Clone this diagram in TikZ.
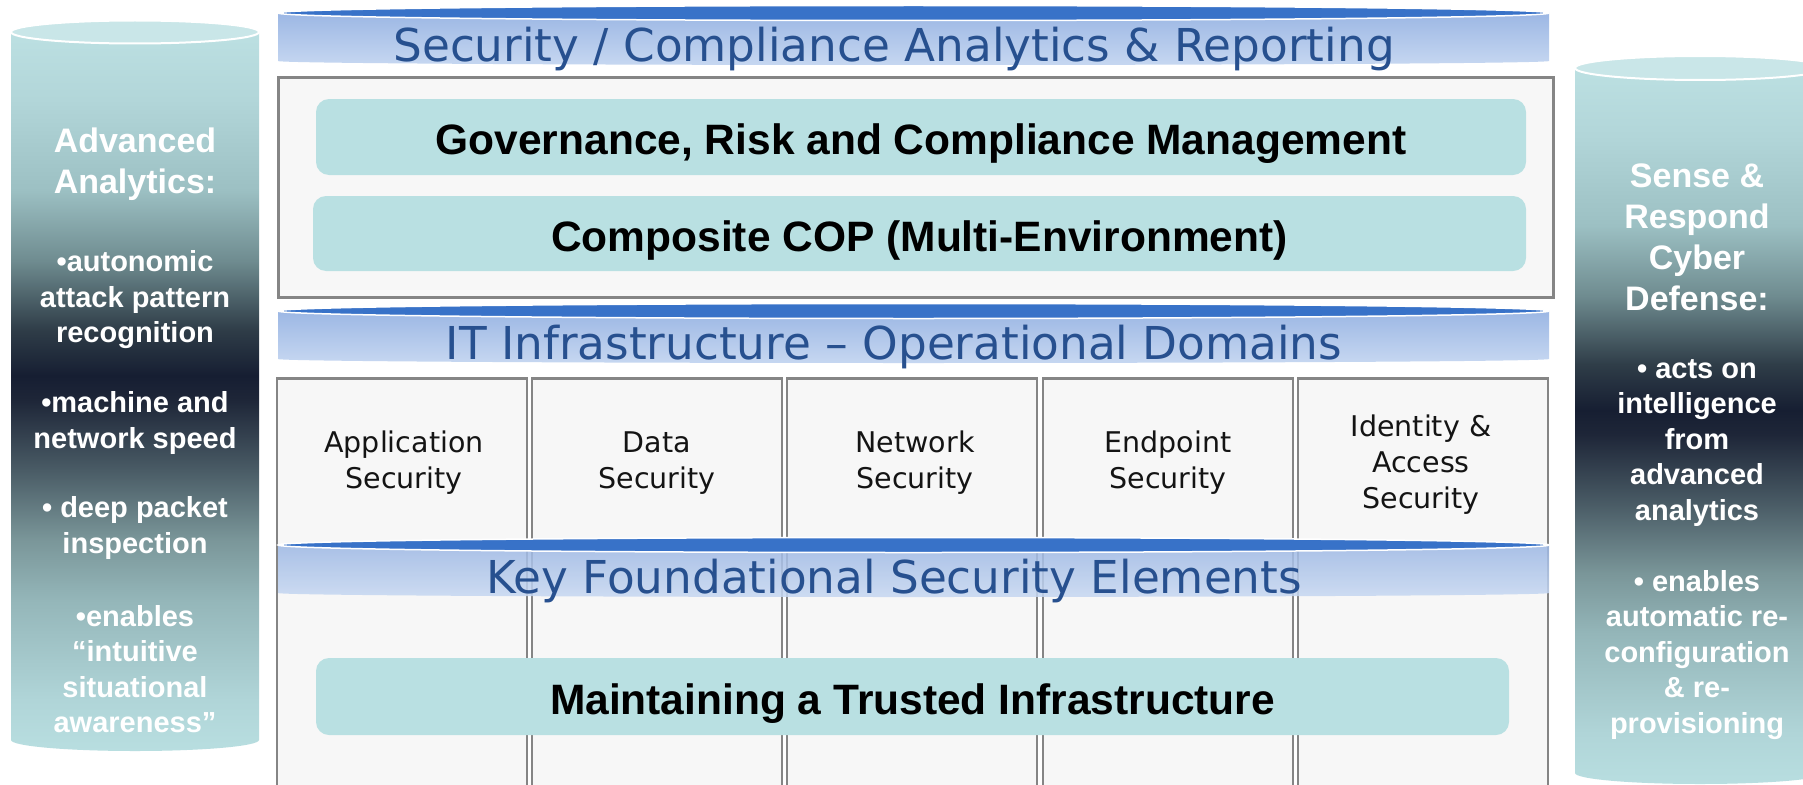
\documentclass[tikz,border=0pt]{standalone}
\usepackage{fontspec}
\setmainfont{Liberation Sans}
\newfontfamily\djv{DejaVu Sans}
\definecolor{bandblue}{HTML}{3872C8}
\definecolor{bandtop}{HTML}{9CB7E4}
\definecolor{bandbot}{HTML}{C6D7F1}
\definecolor{titleblue}{HTML}{27508F}
\definecolor{tealfill}{HTML}{B9E0E2}
\definecolor{panel}{HTML}{F7F7F7}
\definecolor{panelline}{HTML}{858585}
\definecolor{cyltop}{HTML}{C9E6E8}
\definecolor{cA}{HTML}{B8DEE0}
\definecolor{cB}{HTML}{B0D5D8}
\definecolor{cC}{HTML}{94B6B9}
\definecolor{cD}{HTML}{7A9699}
\definecolor{cE}{HTML}{4A5C66}
\definecolor{cF}{HTML}{1E2638}
\definecolor{cG}{HTML}{161E32}
\definecolor{cH}{HTML}{2F3D48}
\definecolor{cI}{HTML}{6F8C90}
\definecolor{cJ}{HTML}{9CC0C3}
\definecolor{cK}{HTML}{B2D6D9}
\definecolor{cL}{HTML}{BCE0E2}
\pgfdeclareverticalshading{cylshade}{100bp}{color(0bp)=(cA); color(25bp)=(cA); color(28.55bp)=(cB); color(35.5bp)=(cC); color(39.7bp)=(cD); color(44.5bp)=(cE); color(49.4bp)=(cF); color(51.1bp)=(cG); color(54.3bp)=(cH); color(59.1bp)=(cI); color(64bp)=(cJ); color(70.3bp)=(cK); color(75bp)=(cL); color(100bp)=(cL)}
\tikzset{
  panelbox/.style={draw=panelline, line width=3pt, fill=panel},
  colbox/.style={draw=panelline, line width=2.5pt, fill=panel, minimum width=250pt, minimum height=520pt, anchor=north, inner sep=0pt},
  tbox/.style={fill=tealfill, rounded corners=13pt, inner sep=0pt, text height=35pt, text depth=0pt, font=\fontsize{42.5}{50}\bfseries\selectfont},
  bandtitle/.style={text=titleblue, font=\djv\fontsize{45.3}{54}\selectfont, anchor=base, inner sep=0pt},
  collabel/.style={font=\djv\fontsize{28.5}{36}\selectfont, align=center, text=black!92},
  cylhead/.style={text=white, font=\fontsize{34}{41}\bfseries\selectfont, align=center, inner sep=0pt},
  cylbody/.style={text=white, font=\fontsize{29}{35.5}\bfseries\selectfont, align=center, inner sep=0pt},
}
\newcommand\mybandat[2]{%
  \path[top color=bandtop, bottom color=bandbot, fill opacity=#2] (278,#1) -- (278,{#1+48}) arc[start angle=180, end angle=0, x radius=635.5, y radius=4] -- (1549,#1) -- cycle;
  \draw[white, line width=1.5pt, fill=bandblue] (913.5,#1) ellipse[x radius=635.5, y radius=7.5];
}
\begin{document}
\begin{tikzpicture}[x=1pt, y=-1pt]
\useasboundingbox (0,0) rectangle (1803,784);
\fill[white] (0,0) rectangle (1803,784);
\clip (0,0) rectangle (1803,784);

% left cylinder
\path[shading=cylshade] (11,32) -- (11,740) arc[start angle=180, end angle=0, x radius=124, y radius=11] -- (259,32) -- cycle;
\draw[white, line width=2pt, fill=cyltop] (135,32) ellipse[x radius=124, y radius=11.5];
% right cylinder
\path[shading=cylshade] (1575,68) -- (1575,773) arc[start angle=180, end angle=0, x radius=125, y radius=11] -- (1825,68) -- cycle;
\draw[white, line width=2pt, fill=cyltop] (1700,68) ellipse[x radius=125, y radius=12];

% top band and panel
\mybandat{13}{1}
\node (t1) [bandtitle] at (894,61) {Security / Compliance Analytics \& Reporting};
\draw[panelbox] (278,77) rectangle (1553,297);
\node (grc) [tbox, minimum width=1210pt, minimum height=76pt] at (921,137) {Governance, Risk and Compliance Management};
\node (cop) [tbox, minimum width=1213pt, minimum height=75pt] at (919.5,233.5) {Composite COP (Multi-Environment)};

% second band
\mybandat{311}{1}
\node (t2) [bandtitle] at (894,359) {IT Infrastructure – Operational Domains};

% columns
\node (c1) [colbox] at (402,377) {};
\node (c2) [colbox] at (657,377) {};
\node (c3) [colbox] at (912,377) {};
\node (c4) [colbox] at (1168,377) {};
\node (c5) [colbox] at (1423,377) {};
\node (l1) [collabel] at (404,463) {Application\\Security};
\node (l2) [collabel] at (657,463) {Data\\Security};
\node (l3) [collabel] at (915,463) {Network\\Security};
\node (l4) [collabel] at (1168,463) {Endpoint\\Security};
\node (l5) [collabel] at (1421,465) {Identity \&\\Access\\Security};

% third band
\mybandat{545}{0.85}
\node (t3) [bandtitle] at (894,593) {Key Foundational Security Elements};
\node (mti) [tbox, minimum width=1193pt, minimum height=77pt] at (912.5,696.5) {Maintaining a Trusted Infrastructure};

% cylinder texts
\node (aa) [cylhead] at (135,164.5) {Advanced\\Analytics:};
\node (a1) [cylbody] at (135,300) {•autonomic\\attack pattern\\recognition};
\node (a2) [cylbody] at (135,423) {•machine and\\network speed};
\node (a3) [cylbody] at (135,528) {• deep packet\\inspection};
\node (a4) [cylbody] at (135,669) {•enables\\“intuitive\\situational\\awareness”};
\node (sr) [cylhead] at (1697,237) {Sense \&\\Respond\\Cyber\\Defense:};
\node (s1) [cylbody] at (1697,443) {• acts on\\intelligence\\from\\advanced\\analytics};
\node (s2) [cylbody] at (1697,655) {• enables\\automatic re-\\configuration\\\& re-\\provisioning};
\end{tikzpicture}
\end{document}
